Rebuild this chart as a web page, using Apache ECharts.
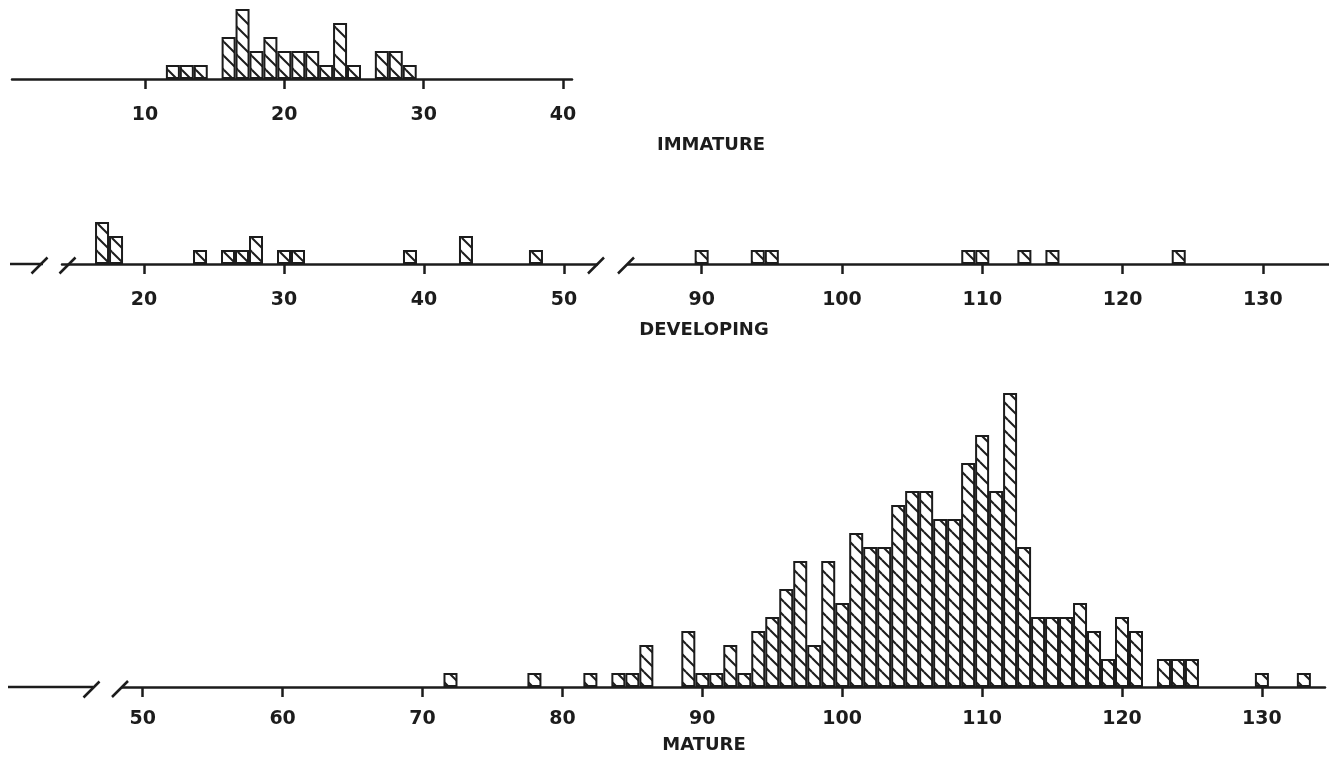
<!DOCTYPE html>
<html>
<head>
<meta charset="utf-8">
<script src="https://cdn.jsdelivr.net/npm/echarts@6/dist/echarts.min.js"></script>
<style>
  html, body { margin: 0; background: #fff; }
  #chart { width: 1329px; height: 759px; }
</style>
</head>
<body>
<div id="chart"></div>
<script>
// bar counts per length class
const immatureLength = [12, 13, 14, 16, 17, 18, 19, 20, 21, 22, 23, 24, 25, 27, 28, 29];
const immatureCount  = [1, 1, 1, 3, 5, 2, 3, 2, 2, 2, 1, 4, 1, 2, 2, 1];

const developingLength = [17, 18, 24, 26, 27, 28, 30, 31, 39, 43, 48, 90, 94, 95, 109, 110, 113, 115, 124];
const developingCount  = [3, 2, 1, 1, 1, 2, 1, 1, 1, 2, 1, 1, 1, 1, 1, 1, 1, 1, 1];

const matureLength = [72, 78, 82, 84, 85, 86, 89, 90, 91, 92, 93, 94, 95, 96, 97, 98, 99, 100,
  101, 102, 103, 104, 105, 106, 107, 108, 109, 110, 111, 112, 113, 114, 115, 116, 117, 118,
  119, 120, 121, 123, 124, 125, 130, 133];
const matureCount = [1, 1, 1, 1, 1, 3, 4, 1, 1, 3, 1, 4, 5, 7, 9, 3, 9, 6,
  11, 10, 10, 13, 14, 14, 12, 12, 16, 18, 14, 21, 10, 5, 5, 5, 6, 4,
  2, 5, 4, 2, 2, 2, 1, 1];

const immatureTicks = [10, 20, 30, 40];
const developingTicksLow = [20, 30, 40, 50];
const developingTicksHigh = [90, 100, 110, 120, 130];
const matureTicks = [50, 60, 70, 80, 90, 100, 110, 120, 130];

const INK = '#1c1c1c';
const FONT = 'DejaVu Sans';

// diagonal hatch fill "\\\"
function hatch(size) {
  const c = document.createElement('canvas');
  c.width = size; c.height = size;
  const g = c.getContext('2d');
  g.fillStyle = '#fff';
  g.fillRect(0, 0, size, size);
  g.strokeStyle = INK;
  g.lineWidth = 2;
  [[0, 0], [-size, 0], [size, 0], [0, -size], [0, size]].forEach(([dx, dy]) => {
    g.beginPath();
    g.moveTo(dx, dy);
    g.lineTo(dx + size, dy + size);
    g.stroke();
  });
  return c;
}
const hatchFill = { image: hatch(14), repeat: 'repeat' };

const pairs = (xs, ys, keep) =>
  xs.map((x, i) => [x, ys[i]]).filter(p => !keep || keep(p[0]));

function xAxis(gridIndex, min, max, ticks, labelMargin) {
  return {
    type: 'value', gridIndex, min, max,
    axisLine: { show: true, lineStyle: { color: INK, width: 2.5 } },
    axisTick: { show: true, customValues: ticks, length: 10, lineStyle: { color: INK, width: 2.5 } },
    axisLabel: {
      customValues: ticks, margin: labelMargin, color: INK,
      fontFamily: FONT, fontWeight: 'bold', fontSize: 19
    },
    splitLine: { show: false }
  };
}
function yAxis(gridIndex, max) {
  return { type: 'value', gridIndex, min: 0, max, show: false };
}
function bars(idx, data) {
  return {
    type: 'bar', xAxisIndex: idx, yAxisIndex: idx, data,
    barWidth: 14, silent: true,
    itemStyle: { color: hatchFill, borderColor: INK, borderWidth: 2 }
  };
}

// axis-break marks
function slash(cx, cy) {
  return { type: 'line', shape: { x1: cx - 8, y1: cy + 8, x2: cx + 8, y2: cy - 8 },
    style: { stroke: INK, lineWidth: 2.5 } };
}
function tail(x1, x2, y) {
  return { type: 'line', shape: { x1, y1: y, x2, y2: y }, style: { stroke: INK, lineWidth: 2.5 } };
}
function caption(text, x, y) {
  return { type: 'text', x, y, style: { text, fill: INK, font: 'bold 18px "' + FONT + '"',
    textAlign: 'center', textVerticalAlign: 'middle' } };
}

const chart = echarts.init(document.getElementById('chart'), null, { renderer: 'canvas' });
chart.setOption({
  backgroundColor: '#fff',
  animation: false,
  grid: [
    { left: 12, top: 9, width: 560, height: 70 },
    { left: 62, top: 222, width: 535, height: 42 },
    { left: 628, top: 222, width: 701, height: 42 },
    { left: 122, top: 393, width: 1203, height: 294 }
  ],
  xAxis: [
    xAxis(0, 0.45, 40.65, immatureTicks, 27),
    xAxis(1, 14.14, 52.36, developingTicksLow, 27),
    xAxis(2, 84.75, 134.71, developingTicksHigh, 27),
    xAxis(3, 48.52, 134.51, matureTicks, 23)
  ],
  yAxis: [yAxis(0, 5), yAxis(1, 3), yAxis(2, 3), yAxis(3, 21)],
  series: [
    bars(0, pairs(immatureLength, immatureCount)),
    bars(1, pairs(developingLength, developingCount, x => x < 60)),
    bars(2, pairs(developingLength, developingCount, x => x >= 60)),
    bars(3, pairs(matureLength, matureCount))
  ],
  graphic: [
    tail(10, 43, 264), slash(39.5, 265.5), slash(67.5, 265.5),
    slash(596, 265.5), slash(626, 265.5),
    tail(8, 93, 687), slash(91.5, 689.5), slash(120, 689),
    caption('IMMATURE', 711, 145),
    caption('DEVELOPING', 704, 330),
    caption('MATURE', 704, 745)
  ]
});
</script>
</body>
</html>
